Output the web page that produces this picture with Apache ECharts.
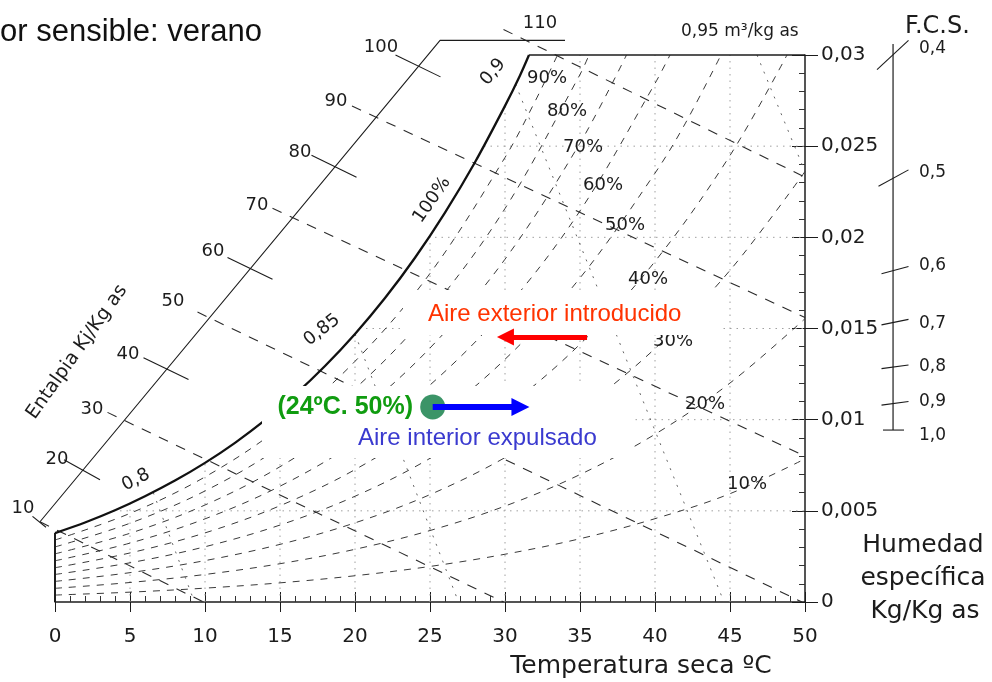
<!DOCTYPE html>
<html><head><meta charset="utf-8">
<script src="https://cdn.jsdelivr.net/npm/echarts@6/dist/echarts.min.js"></script>
<style>html,body{margin:0;padding:0;background:#fff}#c{width:992px;height:682px}</style>
</head><body><div id="c"></div>
<script>
// ---- data (temperature ºC, specific humidity kg/kg) ----
const xTickLabels = ['0','5','10','15','20','25','30','35','40','45','50'];
const yTickLabels = ['0','0,005','0,01','0,015','0,02','0,025','0,03'];

const saturation = [[0,0.00378],[2,0.00436],[4,0.00503],[6,0.0058],[8,0.00666],[10,0.00763],[12,0.00873],[14,0.00997],[16,0.01137],[18,0.01294],[20,0.0147],[22,0.01667],[24,0.01888],[26,0.02136],[28,0.02412],[30,0.02721],[31,0.02888],[31.6,0.03]];
const leftEdge = [[0,0],[0,0.00378]];
const topEdge = [[31.6,0.03],[50,0.03]];

const rh90 = [[0,0.0034],[5,0.00486],[10,0.00686],[15,0.00957],[20,0.0132],[25,0.01802],[30,0.02438],[32,0.02745],[33.5,0.03]];
const rh80 = [[0,0.00302],[5,0.00432],[10,0.00609],[15,0.00849],[20,0.0117],[25,0.01597],[30,0.02158],[35,0.02893],[35.6,0.03]];
const rh70 = [[0,0.00264],[5,0.00377],[10,0.00532],[15,0.00742],[20,0.01022],[25,0.01393],[30,0.0188],[35,0.02517],[38.1,0.03]];
const rh60 = [[0,0.00226],[5,0.00323],[10,0.00456],[15,0.00635],[20,0.00874],[25,0.0119],[30,0.01605],[35,0.02145],[40,0.02844],[41,0.03]];
const rh50 = [[0,0.00188],[5,0.00269],[10,0.00379],[15,0.00528],[20,0.00726],[25,0.00988],[30,0.01331],[35,0.01777],[40,0.02352],[42,0.02622],[44.4,0.03]];
const rh40 = [[0,0.00151],[5,0.00215],[10,0.00303],[15,0.00422],[20,0.0058],[25,0.00788],[30,0.01061],[35,0.01414],[40,0.01868],[45,0.02449],[48.8,0.03]];
const rh30 = [[0,0.00113],[5,0.00161],[10,0.00227],[15,0.00316],[20,0.00434],[25,0.00589],[30,0.00792],[35,0.01054],[40,0.0139],[45,0.01819],[50,0.02361]];
const rh20 = [[0,0.00075],[5,0.00107],[10,0.00151],[15,0.0021],[20,0.00289],[25,0.00392],[30,0.00526],[35,0.00699],[40,0.0092],[45,0.01201],[50,0.01554]];
const rh10 = [[0,0.00038],[5,0.00054],[10,0.00076],[15,0.00105],[20,0.00144],[25,0.00195],[30,0.00262],[35,0.00347],[40,0.00457],[45,0.00594],[50,0.00785]];

const enthalpyScale = [[-1.0,0.0044],[25.67,0.0308],[34.0,0.0308]];
const h10 = [[-1.0,0.0044],[9.9,0]];
const h30 = [[3.5,0.0104],[29.9,0]];
const h50 = [[9.5,0.0159],[49.8,0]];
const h70 = [[14.5,0.0216],[50,0.0080]];
const h90 = [[19.8,0.0272],[50,0.0156]];
const h110 = [[29.9,0.0314],[50,0.0233]];
const h10tick = [[-1.5,0.0047],[-0.6,0.0041]];
const h20tick = [[0.6,0.0078],[3.0,0.0067]];
const h40tick = [[5.9,0.0134],[8.9,0.0122]];
const h60tick = [[11.5,0.0189],[14.5,0.0177]];
const h80tick = [[17.1,0.0245],[20.1,0.0233]];
const h100tick = [[22.7,0.0300],[25.7,0.0288]];

const vol080 = [[6.55,0.0060],[9.3,0]];
const vol085 = [[20.0,0.0147],[26.9,0]];
const vol090 = [[30.7,0.0284],[44.6,0]];
const vol095 = [[46.8,0.03],[50,0.0236]];

const gridV = [[[5,0],[5,0.0054]],[[10,0],[10,0.0076]],[[15,0],[15,0.0107]],[[20,0],[20,0.0147]],[[25,0],[25,0.0202]],[[30,0],[30,0.0272]],[[35,0],[35,0.03]],[[40,0],[40,0.03]],[[45,0],[45,0.03]]];
const gridH = [[[3.9,0.005],[50,0.005]],[[14.0,0.01],[50,0.01]],[[20.3,0.015],[50,0.015]],[[24.9,0.02],[50,0.02]],[[28.6,0.025],[50,0.025]]];

const fcsAxis = [[55.87,0.0306],[55.87,0.00943]];
const fcsTicks = [[[54.8,0.0292],[56.9,0.0308]],[[54.9,0.0228],[56.9,0.0237]],[[55.1,0.0180],[56.9,0.0184]],[[55.1,0.0152],[56.9,0.0155]],[[55.1,0.0128],[56.9,0.0130]],[[55.1,0.0108],[56.9,0.0110]],[[55.2,0.00943],[56.6,0.00943]]];
const fcsLabels = ['0,4','0,5','0,6','0,7','0,8','0,9','1,0'];

const statePoint = [25.18,0.0107];
const blueArrow = [[25.18,0.0107],[31.03,0.0107]];
const redArrow = [[35.47,0.01453],[30.03,0.01453]];

// ---- chart ----
const DV = "'DejaVu Sans', sans-serif";
const AR = "'Liberation Sans', Arial, sans-serif";
const INK = '#1c1c1c';

function ln(data, color, width, type, z, smooth, overlay) {
  return {type:'line', data:data, symbol:'none', silent:true, clip:false, smooth:smooth||false,
    xAxisIndex: overlay ? 3 : 0, yAxisIndex: overlay ? 3 : 0,
    lineStyle:{color:color, width:width, type:type}, z:z||2, animation:false};
}
const series = [];
gridV.concat(gridH).forEach(d => series.push(ln(d, '#a0a0a0', 1, [1.5,5], 1)));
[rh90,rh80,rh70,rh60,rh50,rh40,rh30,rh20,rh10].forEach(d => series.push(ln(d, '#3a3a3a', 1, [7,7], 2, 0.35)));
[h10,h30,h50,h70,h90,h110].forEach(d => series.push(ln(d, '#2a2a2a', 1.1, [10,9], 2, false, true)));
[h10tick,h20tick,h40tick,h60tick,h80tick,h100tick].forEach(d => series.push(ln(d, INK, 1.1, 'solid', 3, false, true)));
series.push(ln(enthalpyScale, INK, 1.1, 'solid', 3, false, true));
[vol080,vol085,vol090,vol095].forEach(d => series.push(ln(d, '#666', 1, [2,7], 2)));
series.push(ln(leftEdge, INK, 2, 'solid', 4));
series.push(ln(topEdge, INK, 1.5, 'solid', 4));
series.push(ln(saturation, '#111', 2.3, 'solid', 5, 0.3));
series.push(ln(fcsAxis, INK, 1.2, 'solid', 4, false, true));
fcsTicks.forEach(d => series.push(ln(d, INK, 1.1, 'solid', 4, false, true)));
series.push({type:'scatter', data:[statePoint], symbolSize:25, silent:true, itemStyle:{color:'#3b9467', opacity:1}, z:70, animation:false});
series.push({type:'line', data:[], z:65, silent:true, animation:false,
  markLine:{silent:true, animation:false, z:80, symbol:['none','triangle'], symbolSize:18, label:{show:false},
    lineStyle:{color:'#0000ff', width:6, type:'solid'}, itemStyle:{color:'#0000ff'},
    data:[[{coord:blueArrow[0]},{coord:blueArrow[1]}]]}});
series.push({type:'line', data:[], z:65, silent:true, animation:false,
  markLine:{silent:true, animation:false, z:80, symbol:['none','triangle'], symbolSize:17, label:{show:false},
    lineStyle:{color:'#ff0000', width:5, type:'solid'}, itemStyle:{color:'#ff0000'},
    data:[[{coord:redArrow[0]},{coord:redArrow[1]}]]}});

function txt(text, x, y, size, opts) {
  opts = opts || {};
  return {type:'text', x:x, y:y, rotation:(opts.rot||0)*Math.PI/180, z:opts.z||100,
    style:{text:text, x:0, y:0, fontSize:size, fontFamily:opts.family||DV, fontWeight:opts.weight||'normal',
      fill:opts.fill||INK, align:opts.align||'center', verticalAlign:'middle'}};
}
const graphics = [
  {type:'rect', shape:{x:403,y:290,width:318,height:45}, style:{fill:'#fff'}, z:50},
  {type:'rect', shape:{x:262,y:386,width:370,height:72}, style:{fill:'#fff'}, z:50},
  txt('or sensible: verano', 0, 32, 31, {family:AR, align:'left', fill:'#111'}),
  txt('0,95 m³/kg as', 681, 32, 17, {align:'left'}),
  txt('F.C.S.', 905, 27, 24, {align:'left'}),
  txt('Humedad', 923, 545, 25),
  txt('específica', 923, 578, 25),
  txt('Kg/Kg as', 925, 611, 25),
  txt('Temperatura seca ºC', 641, 666, 25),
  txt('Entalpia Kj/Kg as', 77, 352, 19, {rot:54.6}),
  txt('Aire exterior introducido', 428, 314, 24, {family:AR, align:'left', fill:'#ff3300'}),
  txt('(24ºC. 50%)', 413, 407, 25, {family:AR, align:'right', weight:'bold', fill:'#109c10'}),
  txt('Aire interior expulsado', 358, 438, 24, {family:AR, align:'left', fill:'#3a3acf'}),
  txt('0,8', 136, 480, 18, {rot:27}),
  txt('0,85', 322, 330, 18, {rot:38}),
  txt('0,9', 493, 72, 18, {rot:50}),
  txt('100%', 432, 200, 18, {rot:55})
];
const hLabels = [['10',23,508],['20',57,459],['30',92,409],['40',128,354],['50',173,301],['60',213,251],['70',257,205],['80',300,152],['90',336,101],['100',381,47],['110',540,23]];
hLabels.forEach(l => graphics.push(txt(l[0], l[1], l[2], 18)));
const rhLabelPos = [['90%',547,78],['80%',567,111],['70%',583,147],['60%',603,185],['50%',625,225],['40%',648,279],['30%',673,341],['20%',705,404],['10%',747,484]];
rhLabelPos.forEach(l => graphics.push(txt(l[0], l[1], l[2], 18, {z:10})));
const fcsY = [49,173,266,324,367,402,436];
fcsLabels.forEach((t,i) => graphics.push(txt(t, 919, fcsY[i], 17, {align:'left'})));

const hidden = {show:false};
const chart = echarts.init(document.getElementById('c'), null, {renderer:'canvas'});
chart.setOption({
  animation:false,
  backgroundColor:'#fff',
  grid:[
    {left:55, right:187, top:55, bottom:80, containLabel:false},
    // overlay grid with the same scale (15 px/ºC, 547 px per 0.03) but wider extent, for marks outside the plot
    {left:10, right:7, top:602 - 0.0324*547/0.03, bottom:80, containLabel:false}
  ],
  xAxis:[
    {type:'value', gridIndex:0, min:0, max:50, interval:5, position:'bottom',
      axisLine:{show:true, onZero:false, lineStyle:{color:INK, width:1.5}},
      axisTick:{show:true, length:10, lineStyle:{color:INK}},
      axisLabel:{margin:25, fontSize:20, fontFamily:DV, color:INK, formatter:(v)=>xTickLabels[Math.round(v/5)]},
      splitLine:{show:false}},
    {type:'value', gridIndex:0, min:0, max:50, interval:1, position:'bottom',
      axisLine:{show:false, onZero:false}, axisTick:{show:true, inside:true, length:6, lineStyle:{color:'#333'}},
      axisLabel:{show:false}, splitLine:{show:false}},
    {type:'value', gridIndex:0, min:0, max:50, interval:5, position:'bottom',
      axisLine:{show:false, onZero:false}, axisTick:{show:true, inside:true, length:10, lineStyle:{color:INK}},
      axisLabel:{show:false}, splitLine:{show:false}},
    {type:'value', gridIndex:1, min:-3, max:62, show:false, axisLine:{onZero:false}, splitLine:{show:false}}
  ],
  yAxis:[
    {type:'value', gridIndex:0, min:0, max:0.03, interval:0.005, position:'right',
      axisLine:{show:true, onZero:false, lineStyle:{color:INK, width:1.5}},
      axisTick:{show:true, length:13, lineStyle:{color:INK}},
      axisLabel:{margin:16, fontSize:20, fontFamily:DV, color:INK, formatter:(v)=>yTickLabels[Math.round(v/0.005)]},
      splitLine:{show:false}},
    {type:'value', gridIndex:0, min:0, max:0.03, interval:0.001, position:'right',
      axisLine:{show:false, onZero:false}, axisTick:{show:true, inside:true, length:6, lineStyle:{color:'#333'}},
      axisLabel:{show:false}, splitLine:{show:false}},
    {type:'value', gridIndex:0, min:0, max:0.03, interval:0.005, position:'right',
      axisLine:{show:false, onZero:false}, axisTick:{show:true, inside:true, length:13, lineStyle:{color:INK}},
      axisLabel:{show:false}, splitLine:{show:false}},
    {type:'value', gridIndex:1, min:0, max:0.0324, show:false, axisLine:{onZero:false}, splitLine:{show:false}}
  ],
  series:series,
  graphic:graphics
});
</script></body></html>
